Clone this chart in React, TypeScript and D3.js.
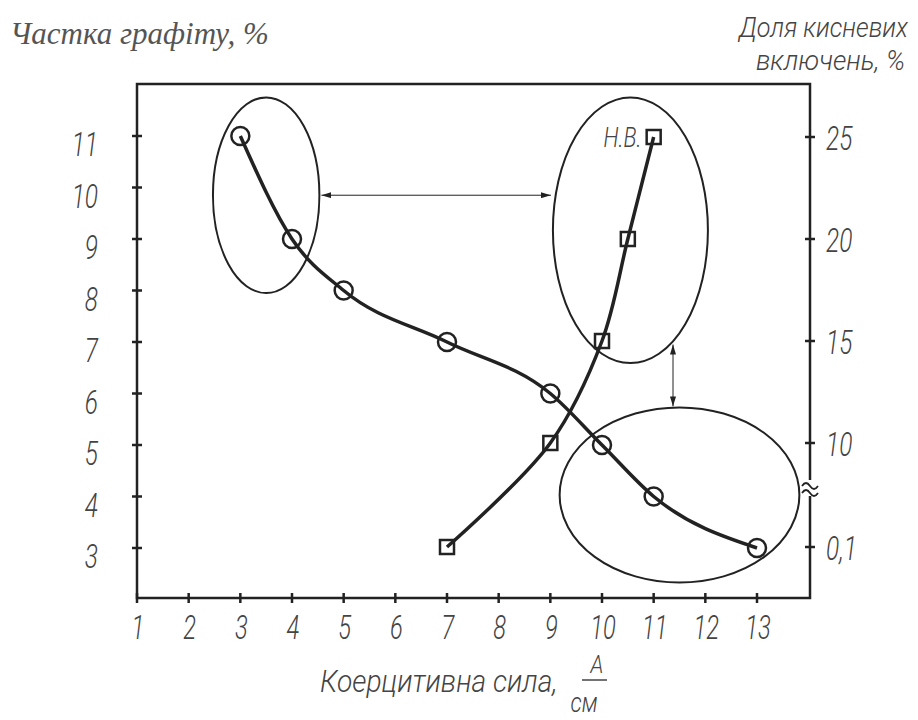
import React from 'react';
import * as d3 from 'd3';

// data
const xTicks = [1, 2, 3, 4, 5, 6, 7, 8, 9, 10, 11, 12, 13];
const leftTicks = [3, 4, 5, 6, 7, 8, 9, 10, 11];
const rightTicks = [0.1, 10, 15, 20, 25];
const rightTickLabels = ['0,1', '10', '15', '20', '25'];

// graphite share (circles) vs coercive force
const graphiteX = [3, 4, 5, 7, 9, 10, 11, 13];
const graphiteY = [11, 9, 8, 7, 6, 5, 4, 3];

// oxygen inclusions (squares) vs coercive force
const oxygenX = [7, 9, 10, 10.5, 11];
const oxygenY = [0.1, 10, 15, 20, 25];

// grouping ellipses, in data units (cx, cy on the left scale, rx, ry)
const ellipseCx = [3.5, 10.55, 11.5];
const ellipseCy = [9.85, 9.17, 4.03];
const ellipseRx = [1.03, 1.5, 2.32];
const ellipseRy = [1.9, 2.58, 1.7];

const W = 918;
const H = 720;
const left = 137;
const right = 810;
const top = 84;
const bottom = 598;

const gost = '"Roboto", "DejaVu Sans", sans-serif';
const ink = '#222';
const textInk = '#444';

// narrow italic "drafting" text: squeeze a regular italic horizontally
function Draft({ x, y, size, sx = 0.72, anchor = 'start', children }: any) {
  return (
    <text
      transform={`translate(${x},${y}) scale(${sx},1)`}
      textAnchor={anchor}
      fontFamily={gost}
      fontStyle="italic"
      fontWeight={300}
      fontSize={size}
      fill={textInk}
    >
      {children}
    </text>
  );
}

export default function App() {
  const x = d3.scaleLinear().domain([1, 13]).range([left, 757]);
  const yL = d3.scaleLinear().domain([3, 11]).range([548, 136]);
  // right axis is broken between 0,1 and 10
  const yR = d3.scaleLinear().domain([0.1, 10, 25]).range([547, 443, 137]);

  const circleLine = d3.line<number>()
    .x((d, i) => x(graphiteX[i]))
    .y(d => yL(d))
    .curve(d3.curveMonotoneX);
  const squareLine = d3.line<number>()
    .x((d, i) => x(oxygenX[i]))
    .y(d => yR(d))
    .curve(d3.curveCatmullRom.alpha(0.5));

  const ell = ellipseCx.map((cx, i) => ({
    cx: x(cx),
    cy: yL(ellipseCy[i]),
    rx: x(1 + ellipseRx[i]) - x(1),
    ry: yL(3) - yL(3 + ellipseRy[i]),
  }));

  const breakY = (yR(0.1) + yR(10)) / 2 - 7;
  const sq = 14;

  return (
    <svg width={W} height={H} style={{ position: 'absolute', left: 0, top: 0, background: '#fff' }}>
      <defs>
        <marker id="ah" viewBox="0 0 10 6" refX="10" refY="3" markerWidth="10" markerHeight="6" orient="auto-start-reverse" markerUnits="userSpaceOnUse">
          <path d="M0,0 L10,3 L0,6 Z" fill={ink} />
        </marker>
      </defs>
      <rect width={W} height={H} fill="#fff" />

      {/* titles */}
      <text x={10} y={44} fontFamily='"Liberation Serif", "DejaVu Serif", serif' fontStyle="italic" fontSize={31} fill="#555">
        Частка графіту, %
      </text>
      <Draft x={908} y={37} size={28} sx={0.9} anchor="end">Доля кисневих</Draft>
      <Draft x={905} y={70} size={28} sx={0.95} anchor="end">включень, %</Draft>

      {/* frame */}
      <rect x={left} y={top} width={right - left} height={bottom - top} fill="none" stroke={ink} strokeWidth={2.5} />

      {/* bottom axis */}
      {xTicks.map(t => (
        <g key={'x' + t}>
          <line x1={x(t)} x2={x(t)} y1={bottom - 5} y2={bottom + 5} stroke={ink} strokeWidth={2.5} />
          <Draft x={x(t) + 1} y={639} size={33} anchor="middle">{t}</Draft>
        </g>
      ))}

      {/* left axis */}
      {leftTicks.map(t => (
        <g key={'l' + t}>
          <line x1={left - 5} x2={left + 5} y1={yL(t)} y2={yL(t)} stroke={ink} strokeWidth={2.5} />
          <Draft x={98} y={yL(t) + 20} size={34} anchor="end">{t}</Draft>
        </g>
      ))}

      {/* right axis */}
      {rightTicks.map((t, i) => (
        <g key={'r' + t}>
          <line x1={right - 5} x2={right + 5} y1={yR(t)} y2={yR(t)} stroke={ink} strokeWidth={2.5} />
          <Draft x={826} y={yR(t) + 13} size={34}>{rightTickLabels[i]}</Draft>
        </g>
      ))}
      <rect x={right - 4} y={breakY - 8} width={8} height={16} fill="#fff" />
      <path
        d={`M${right - 8},${breakY - 2} q4,-6 8,0 t8,0 M${right - 8},${breakY + 5} q4,-6 8,0 t8,0`}
        fill="none" stroke={ink} strokeWidth={1.8}
      />

      {/* x title */}
      <Draft x={320} y={692} size={32} sx={0.88}>Коерцитивна сила,</Draft>
      <Draft x={597} y={673} size={25} sx={0.85} anchor="middle">А</Draft>
      <line x1={582} x2={607} y1={680} y2={680} stroke={textInk} strokeWidth={1.5} />
      <Draft x={584} y={712} size={28} sx={0.8} anchor="middle">см</Draft>

      {/* ellipses */}
      {ell.map((e, i) => (
        <ellipse key={'e' + i} cx={e.cx} cy={e.cy} rx={e.rx} ry={e.ry} fill="none" stroke={ink} strokeWidth={2} />
      ))}

      {/* connecting arrows */}
      <line
        x1={ell[0].cx + ell[0].rx + 2} x2={ell[1].cx - ell[1].rx - 2}
        y1={ell[0].cy} y2={ell[0].cy}
        stroke={ink} strokeWidth={1} markerStart="url(#ah)" markerEnd="url(#ah)"
      />
      <line
        x1={673} x2={673}
        y1={ell[1].cy + ell[1].ry * 0.86} y2={ell[2].cy - ell[2].ry - 1}
        stroke={ink} strokeWidth={1} markerStart="url(#ah)" markerEnd="url(#ah)"
      />

      {/* curves */}
      <path d={circleLine(graphiteY) || ''} fill="none" stroke={ink} strokeWidth={3.5} />
      <path d={squareLine(oxygenY) || ''} fill="none" stroke={ink} strokeWidth={3.5} />

      {graphiteY.map((v, i) => (
        <circle key={'c' + i} cx={x(graphiteX[i])} cy={yL(v)} r={9} fill="none" stroke={ink} strokeWidth={2.5} />
      ))}
      {oxygenY.map((v, i) => (
        <rect key={'s' + i} x={x(oxygenX[i]) - sq / 2} y={yR(v) - sq / 2} width={sq} height={sq} fill="none" stroke={ink} strokeWidth={2.5} />
      ))}

      <Draft x={x(11) - 12} y={yR(25) + 10} size={28} sx={0.78} anchor="end">Н.В.</Draft>
    </svg>
  );
}
